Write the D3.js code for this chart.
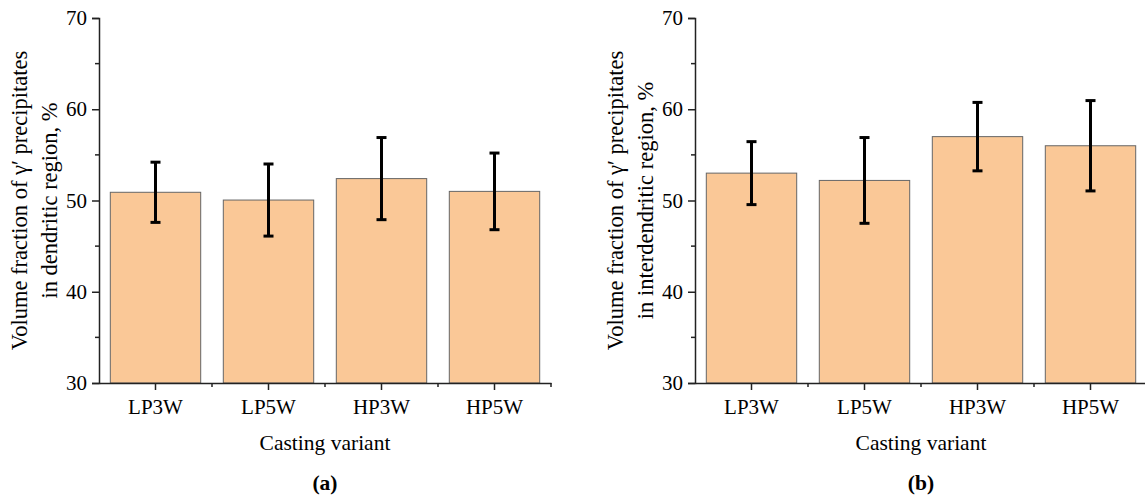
<!DOCTYPE html>
<html>
<head>
<meta charset="utf-8">
<script src="https://cdn.jsdelivr.net/npm/d3@7"></script>
<style>
    body { margin: 0; background: #fff; }
    text { font-family: "Liberation Serif", "Times New Roman", serif; fill: #000; }
</style>
</head>
<body>
<div id="canvas"></div>
<script>
"use strict"

/* Data */
let categories = ["LP3W", "LP5W", "HP3W", "HP5W"];
let dendriticValues = [50.9, 50.05, 52.4, 51.0];
let dendriticErrors = [3.3, 3.95, 4.5, 4.2];
let interdendriticValues = [53.0, 52.2, 57.0, 56.0];
let interdendriticErrors = [3.45, 4.7, 3.75, 4.95];
let majorTicks = [30, 40, 50, 60, 70];
let minorTicks = [35, 45, 55, 65];

/* drawing size */
let svgWidth = 1145;
let svgHeight = 497;
let topY = 18;
let bottomY = 383;
let panelWidth = 452;

let svg = d3.select("#canvas")
    .append("svg")
    .attr("width", svgWidth)
    .attr("height", svgHeight);

let yScale = d3.scaleLinear()
    .domain([30, 70])
    .range([bottomY, topY]);

function drawPanel(left, values, errors, labelLines, letter) {
    let g = svg.append("g");

    let xScale = d3.scaleBand()
        .domain(categories)
        .range([left, left + panelWidth])
        .paddingInner(0.2)
        .paddingOuter(0.1);

    /* bars */
    g.selectAll("rect.bar")
        .data(values)
        .join("rect")
        .attr("class", "bar")
        .attr("x", (d, i) => xScale(categories[i]))
        .attr("y", d => yScale(d))
        .attr("width", xScale.bandwidth())
        .attr("height", d => yScale(30) - yScale(d))
        .attr("fill", "#fac897")
        .attr("stroke", "#666")
        .attr("stroke-width", 1);

    /* error bars */
    let centre = i => xScale(categories[i]) + xScale.bandwidth() / 2;
    g.selectAll("line.err")
        .data(values)
        .join("line")
        .attr("class", "err")
        .attr("x1", (d, i) => centre(i))
        .attr("x2", (d, i) => centre(i))
        .attr("y1", (d, i) => yScale(d + errors[i]))
        .attr("y2", (d, i) => yScale(d - errors[i]))
        .attr("stroke", "#000")
        .attr("stroke-width", 3);

    for (let sign of [1, -1]) {
        g.selectAll("line.cap" + (sign > 0 ? "t" : "b"))
            .data(values)
            .join("line")
            .attr("class", "cap" + (sign > 0 ? "t" : "b"))
            .attr("x1", (d, i) => centre(i) - 5)
            .attr("x2", (d, i) => centre(i) + 5)
            .attr("y1", (d, i) => yScale(d + sign * errors[i]))
            .attr("y2", (d, i) => yScale(d + sign * errors[i]))
            .attr("stroke", "#000")
            .attr("stroke-width", 3);
    }

    /* y axis with minor ticks */
    let yAxis = g.append("g")
        .attr("transform", `translate(${left},0)`)
        .call(d3.axisLeft(yScale).tickValues(majorTicks).tickSize(7).tickPadding(5).tickFormat(d3.format("d")));
    yAxis.selectAll("line.minor")
        .data(minorTicks)
        .join("line")
        .attr("class", "minor")
        .attr("x1", -4)
        .attr("x2", 0)
        .attr("y1", d => yScale(d))
        .attr("y2", d => yScale(d))
        .attr("stroke", "#222")
        .attr("stroke-width", 1.5);

    /* x axis */
    let xAxis = g.append("g")
        .attr("transform", `translate(0,${bottomY})`)
        .call(d3.axisBottom(xScale).tickSize(7).tickPadding(9).tickSizeOuter(0));
    let step = xScale.step();
    let bounds = d3.range(categories.length + 1).map(i => left + i * step);
    xAxis.selectAll("line.minor")
        .data(bounds.slice(1))
        .join("line")
        .attr("class", "minor")
        .attr("x1", d => d)
        .attr("x2", d => d)
        .attr("y1", 0)
        .attr("y2", 4)
        .attr("stroke", "#222")
        .attr("stroke-width", 1.5);

    for (let ax of [xAxis, yAxis]) {
        ax.attr("font-family", null).attr("font-size", null);
        ax.selectAll("path.domain").attr("stroke", "#222").attr("stroke-width", 1.5);
        ax.selectAll(".tick line").attr("stroke", "#222").attr("stroke-width", 1.5);
        ax.selectAll("text")
            .style("font-family", '"Liberation Serif", "Times New Roman", serif')
            .style("font-size", "21px")
            .attr("fill", "#000");
    }

    /* y label, two lines */
    let labelOffsets = [-72, -42];
    for (let i = 0; i < labelLines.length; i++) {
        g.append("text")
            .attr("transform", `translate(${left + labelOffsets[i]},${(topY + bottomY) / 2}) rotate(-90)`)
            .attr("text-anchor", "middle")
            .style("font-size", "22.5px")
            .text(labelLines[i]);
    }

    /* x label */
    g.append("text")
        .attr("x", left + panelWidth / 2)
        .attr("y", 450)
        .attr("text-anchor", "middle")
        .style("font-size", "21.5px")
        .text("Casting variant");

    /* panel letter */
    g.append("text")
        .attr("x", left + panelWidth / 2)
        .attr("y", 490)
        .attr("text-anchor", "middle")
        .style("font-size", "21.5px")
        .style("font-weight", "bold")
        .text(letter);
}

drawPanel(99, dendriticValues, dendriticErrors,
    ["Volume fraction of γ′ precipitates", "in dendritic region, %"], "(a)");
drawPanel(695, interdendriticValues, interdendriticErrors,
    ["Volume fraction of γ′ precipitates", "in interdendritic region, %"], "(b)");
</script>
</body>
</html>
